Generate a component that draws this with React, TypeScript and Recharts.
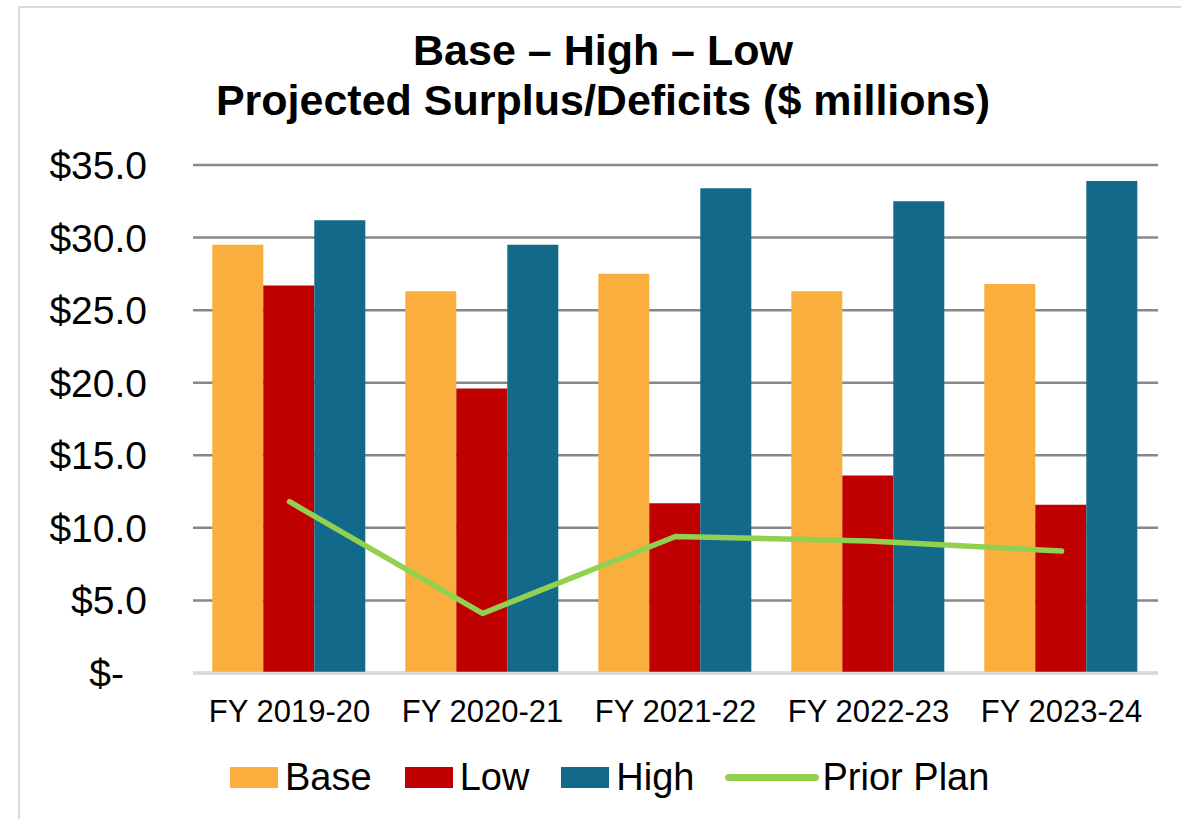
import React from "react";
import { Bar, CartesianGrid, ComposedChart, Line, XAxis, YAxis } from "recharts";

const YEARS = ["FY 2019-20", "FY 2020-21", "FY 2021-22", "FY 2022-23", "FY 2023-24"];
const BASE = [29.5, 26.3, 27.5, 26.3, 26.8];
const LOW = [26.7, 19.6, 11.7, 13.6, 11.6];
const HIGH = [31.2, 29.5, 33.4, 32.5, 33.9];
const PRIOR_PLAN = [11.8, 4.1, 9.4, 9.1, 8.4];
const Y_TICKS = [0, 5, 10, 15, 20, 25, 30, 35];

const FONT = '"Liberation Sans", Arial, sans-serif';
const C_BASE = "#FAAE3D";
const C_LOW = "#C00000";
const C_HIGH = "#12698A";
const C_PRIOR = "#92D050";

const rows = YEARS.map((year, i) => ({
  year,
  base: BASE[i],
  low: LOW[i],
  high: HIGH[i],
  prior: PRIOR_PLAN[i],
}));

function fmtMoney(v: number): string {
  if (v === 0) return "$-";
  return `$${v.toFixed(1)}`;
}

// accounting format leaves trailing room after the "$-" for zero
function YTick({ x, y, payload }: { x?: number; y?: number; payload?: { value: number } }) {
  const v = payload?.value ?? 0;
  return (
    <text
      x={v === 0 ? (x ?? 0) - 23 : x}
      y={y}
      dy="0.36em"
      textAnchor="end"
      fontFamily={FONT}
      fontSize={39}
      fill="#000"
    >
      {fmtMoney(v)}
    </text>
  );
}

function Swatch({ color }: { color: string }) {
  return <span style={{ display: "inline-block", width: 48, height: 21, background: color }} />;
}

export default function App() {
  return (
    <div
      style={{
        position: "absolute",
        left: 0,
        top: 0,
        width: 1181,
        height: 819,
        background: "#fff",
        overflow: "hidden",
        fontFamily: FONT,
      }}
    >
      <div
        style={{
          position: "absolute",
          left: 18,
          top: 6,
          right: -10,
          bottom: -10,
          borderLeft: "2px solid #d9d9d9",
          borderTop: "2px solid #d9d9d9",
        }}
      />

      <div
        style={{
          position: "absolute",
          left: 19,
          top: 25,
          width: 1168,
          textAlign: "center",
          fontWeight: 700,
          fontSize: 43,
          lineHeight: "50px",
          color: "#000",
        }}
      >
        <div>Base – High – Low</div>
        <div>Projected Surplus/Deficits ($ millions)</div>
      </div>

      <div style={{ position: "absolute", left: 0, top: 0 }}>
        <ComposedChart
          width={1181}
          height={819}
          data={rows}
          margin={{ top: 165, right: 23, left: 0, bottom: 86 }}
          barCategoryGap="10%"
          barGap={0}
        >
          <CartesianGrid vertical={false} stroke="#878787" strokeWidth={2.5} />
          <XAxis
            dataKey="year"
            height={60}
            tickSize={0}
            tickMargin={27}
            axisLine={{ stroke: "#d9d9d9", strokeWidth: 2.5 }}
            tick={{ fontFamily: FONT, fontSize: 31, fill: "#000" }}
            interval={0}
          />
          <YAxis
            width={193}
            domain={[0, 35]}
            ticks={Y_TICKS}
            interval={0}
            tickSize={0}
            tickMargin={46}
            axisLine={false}
            tick={<YTick />}
          />
          <Bar dataKey="base" name="Base" fill={C_BASE} isAnimationActive={false} />
          <Bar dataKey="low" name="Low" fill={C_LOW} isAnimationActive={false} />
          <Bar dataKey="high" name="High" fill={C_HIGH} isAnimationActive={false} />
          <Line
            type="linear"
            dataKey="prior"
            name="Prior Plan"
            stroke={C_PRIOR}
            strokeWidth={5.5}
            strokeLinecap="round"
            strokeLinejoin="round"
            dot={false}
            activeDot={false}
            isAnimationActive={false}
          />
        </ComposedChart>
      </div>

      <div
        style={{
          position: "absolute",
          left: 230,
          top: 755,
          height: 44,
          display: "flex",
          alignItems: "center",
          fontSize: 38,
          color: "#000",
          whiteSpace: "nowrap",
        }}
      >
        <Swatch color={C_BASE} />
        <span style={{ marginLeft: 7, marginRight: 33 }}>Base</span>
        <Swatch color={C_LOW} />
        <span style={{ marginLeft: 7, marginRight: 32 }}>Low</span>
        <Swatch color={C_HIGH} />
        <span style={{ marginLeft: 7, marginRight: 30 }}>High</span>
        <span
          style={{ display: "inline-block", width: 94, height: 7, borderRadius: 4, background: C_PRIOR }}
        />
        <span style={{ marginLeft: 4 }}>Prior Plan</span>
      </div>
    </div>
  );
}
